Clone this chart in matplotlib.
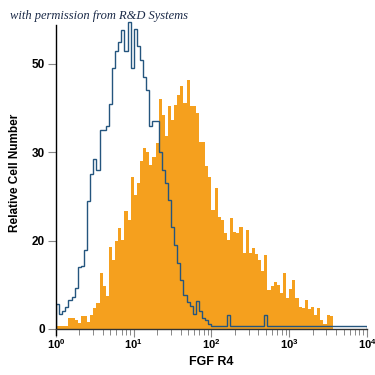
import numpy as np
import matplotlib
matplotlib.use("Agg")
import matplotlib.pyplot as plt
from matplotlib.ticker import LogLocator, NullFormatter

plt.rcParams['font.family'] = ['Liberation Sans Narrow', 'Liberation Sans', 'DejaVu Sans']

# bin edges in decades (0.04 decade channels), 10^0 .. 10^3.6
log_edges = np.arange(0, 91) * 0.04

# FGF R4 stained cells (filled orange histogram), axis units
fgfr4 = [0.3, 0.3, 0.3, 0.3, 1.25, 1.25, 1.0, 0.7, 1.4, 1.4,
         0.8, 1.6, 2.4, 2.9, 6.3, 4.8, 3.7, 9.3, 7.8, 10.0,
         11.4, 10.1, 13.3, 12.3, 17.2, 15.2, 16.5, 19.0, 20.5, 20.0,
         18.5, 19.5, 21.0, 26.0, 24.2, 21.8, 25.2, 23.7, 25.4, 26.5,
         27.5, 25.6, 28.2, 25.2, 25.2, 24.5, 21.2, 21.2, 18.4, 17.2,
         13.5, 16.0, 12.7, 12.3, 10.9, 10.1, 12.6, 11.0, 10.9, 11.5,
         8.6, 11.2, 8.6, 9.2, 8.5, 7.8, 6.5, 8.4, 4.4, 4.8,
         5.3, 5.0, 4.0, 6.3, 3.5, 4.5, 5.5, 3.5, 2.5, 2.4,
         3.3, 2.2, 2.5, 1.6, 2.4, 1.0, 0.5, 1.6, 1.4, 0.0]

# isotype control (blue outline histogram)
isotype = [2.8, 1.7, 2.0, 2.5, 3.3, 3.6, 4.6, 7.0, 7.1, 8.9,
           14.5, 17.5, 19.2, 18.0, 22.5, 22.5, 23.0, 25.5, 29.5, 31.5,
           32.5, 33.8, 31.5, 34.8, 29.5, 34.0, 32.0, 30.5, 28.5, 27.0,
           23.0, 23.5, 23.5, 20.0, 18.0, 16.5, 14.6, 11.5, 9.5, 7.5,
           5.5, 3.8, 3.0, 2.6, 1.7, 3.1, 2.0, 1.2, 1.0, 0.6,
           0.3, 0.3, 0.3, 0.3, 0.3, 1.6, 0.3, 0.3, 0.3, 0.3,
           0.3, 0.3, 0.3, 0.3, 0.3, 0.3, 0.3, 1.6, 0.3, 0.3,
           0.3, 0.3, 0.3, 0.3, 0.3, 0.3, 0.3, 0.3, 0.3, 0.3,
           0.3, 0.3, 0.3, 0.3, 0.3, 0.3, 0.3, 0.3, 0.3, 0.3]
iso_tail = 0.3  # flat line out to 10^4

ytick_pos = [0, 10, 20, 30]
ytick_lab = ['0', '20', '30', '50']

edges = 10 ** log_edges

fig = plt.figure(figsize=(3.75, 3.75), dpi=100)
ax = fig.add_axes([0.1493, 0.1067, 0.8293, 0.864])

ax.stairs(fgfr4, edges, fill=True, color='#f5a01e', linewidth=0)
iso_edges = np.append(edges, 1e4)
ax.stairs(isotype + [iso_tail], iso_edges, color='#24557e', linewidth=1.0)

ax.set_xscale('log')
ax.set_xlim(1, 1e4)
ax.set_ylim(-0.7, 36)

for s in ['top', 'right']:
    ax.spines[s].set_visible(False)
ax.spines['bottom'].set_position(('data', 0))
ax.spines['left'].set_bounds(-0.7, 34.4)
ax.spines['left'].set_linewidth(1.0)
ax.spines['bottom'].set_linewidth(1.0)
ax.spines['bottom'].set_color('#333333')

ax.set_yticks(ytick_pos)
ax.set_yticklabels(ytick_lab, fontsize=8.5, fontweight='bold')
ax.tick_params(axis='y', length=6, width=0.8, color='#888888', pad=2)

ax.xaxis.set_major_locator(LogLocator(base=10, numticks=10))
ax.xaxis.set_minor_locator(LogLocator(base=10, subs=np.arange(2, 10), numticks=20))
ax.xaxis.set_minor_formatter(NullFormatter())
ax.tick_params(axis='x', which='major', length=6, width=0.8, color='#888888',
               labelsize=8, pad=0)
ax.tick_params(axis='x', which='minor', length=4, width=0.7, color='#888888')
for t in ax.get_xticklabels():
    t.set_fontweight('bold')

ax.set_xlabel('FGF R4', fontsize=9, fontweight='bold', labelpad=4)
ax.set_ylabel('Relative Cell Number', fontsize=8.5, fontweight='bold', labelpad=8)

fig.text(0.027, 0.957, 'with permission from R&D Systems', fontsize=9,
         style='italic', family=['Liberation Serif', 'DejaVu Serif'],
         color='#1b2a48', ha='left', va='center')

fig.savefig('out.png', dpi=100)
